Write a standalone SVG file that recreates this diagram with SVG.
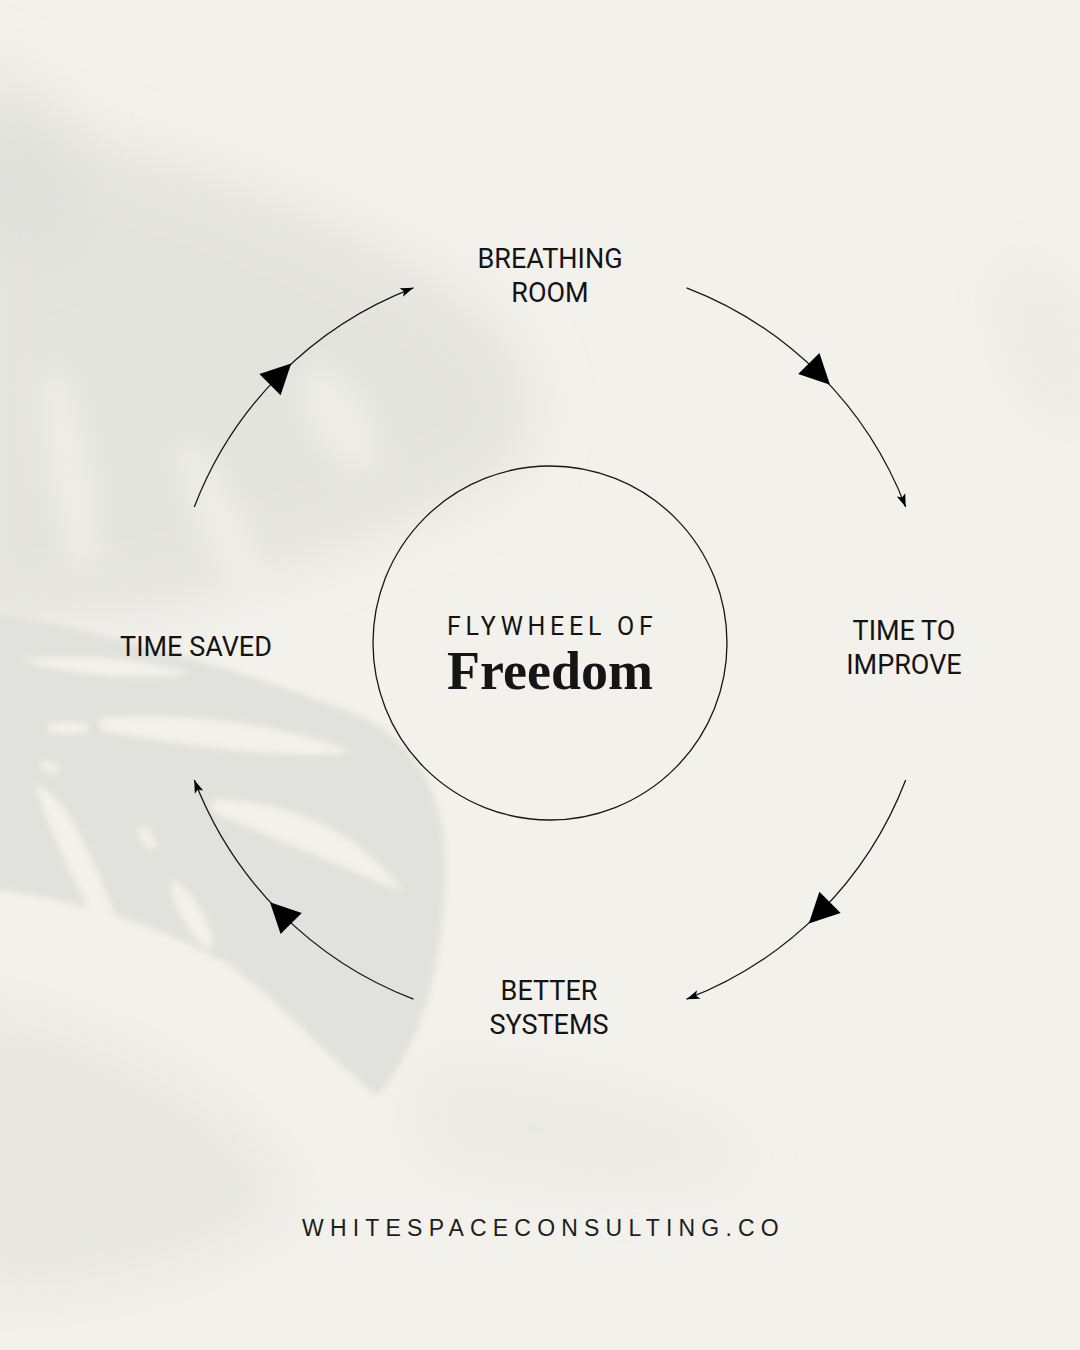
<svg xmlns="http://www.w3.org/2000/svg" width="1080" height="1350" viewBox="0 0 1080 1350">
<style>
.lbl{font-family:Roboto,"Liberation Sans",sans-serif;font-size:27px;fill:#141414;text-anchor:middle}
.arc{fill:none;stroke:#161616;stroke-width:1.3}
.sh{fill:#dcdcd8}
.lt{fill:#f2f1ec}
</style>
<defs>
<filter id="bL" x="-50%" y="-50%" width="200%" height="200%"><feGaussianBlur stdDeviation="30"/></filter>
<filter id="bM" x="-50%" y="-50%" width="200%" height="200%"><feGaussianBlur stdDeviation="14"/></filter>
<filter id="bS" x="-20%" y="-20%" width="140%" height="140%"><feGaussianBlur stdDeviation="3"/></filter>
<marker id="big" markerUnits="userSpaceOnUse" markerWidth="34" markerHeight="34" viewBox="-16 -17 34 34" refX="0" refY="0" orient="auto">
<path d="M-15,-15 L15,0 L-15,15 Z" fill="#000"/>
</marker>
<marker id="tip" markerUnits="userSpaceOnUse" markerWidth="14" markerHeight="10" viewBox="0 -5 14 10" refX="13" refY="0" orient="auto">
<path d="M0,-4.5 L13,0 L0,4.5 L3,0 Z" fill="#000"/>
</marker>
</defs>
<g id="background">
<rect width="1080" height="1350" fill="#f2f1ec"/>
<path class="sh" opacity="0.6" filter="url(#bL)" d="M-40,120 C120,130 300,200 440,280 C540,340 560,430 500,480 C400,530 280,570 160,610 L-40,630 Z"/>
<path class="sh" opacity="0.55" filter="url(#bL)" d="M-40,60 C40,70 90,120 80,220 C60,260 0,260 -40,250 Z"/>
<ellipse class="lt" opacity="0.7" filter="url(#bM)" cx="70" cy="470" rx="22" ry="110" transform="rotate(-10 70 470)"/>
<ellipse class="lt" opacity="0.7" filter="url(#bM)" cx="220" cy="520" rx="22" ry="90" transform="rotate(-25 220 520)"/>
<ellipse class="lt" opacity="0.7" filter="url(#bM)" cx="340" cy="420" rx="30" ry="60" transform="rotate(-30 340 420)"/>
<path class="sh" opacity="0.45" filter="url(#bL)" d="M1000,260 C1060,270 1100,330 1090,420 C1050,430 1010,380 1000,260 Z"/>
<path class="sh" opacity="0.45" filter="url(#bL)" d="M-40,1000 C100,1020 250,1100 300,1200 C250,1260 100,1300 -40,1300 Z"/>
<path class="sh" opacity="0.35" filter="url(#bL)" d="M420,1060 C560,1080 700,1100 760,1160 C700,1200 560,1190 420,1160 Z"/>
<g filter="url(#bS)">
<path d="M-10,612 C120,635 250,672 360,716 C420,745 448,800 445,880 C442,960 425,1040 378,1095 C340,1070 290,1010 230,965 C160,925 80,900 -10,888 Z" fill="#e1e1dd"/>
<path class="lt" d="M22,660 C80,652 150,660 190,674 C140,680 70,676 22,660 Z"/>
<path class="lt" d="M100,718 C180,712 280,722 352,752 C300,760 190,748 100,730 Z"/>
<ellipse class="lt" cx="68" cy="728" rx="22" ry="6"/>
<ellipse class="lt" cx="50" cy="767" rx="10" ry="5" transform="rotate(25 50 767)"/>
<path class="lt" d="M212,800 C280,798 360,830 403,892 C350,870 280,840 212,812 Z"/>
<path class="lt" d="M35,785 C60,790 90,840 133,965 C100,940 60,860 35,785 Z"/>
<ellipse class="lt" cx="192" cy="915" rx="10" ry="38" transform="rotate(-30 192 915)"/>
<ellipse class="lt" cx="147" cy="838" rx="6" ry="13" transform="rotate(-30 147 838)"/>
</g>
</g>
<g id="connectors">
<path class="arc" marker-mid="url(#big)" marker-end="url(#tip)" d="M194.31,506.96 A381,381 0 0 1 280.59,374.09 A381,381 0 0 1 413.46,287.81"/>
<path class="arc" marker-mid="url(#big)" marker-end="url(#tip)" d="M686.54,287.81 A381,381 0 0 1 819.41,374.09 A381,381 0 0 1 905.69,506.96"/>
<path class="arc" marker-mid="url(#big)" marker-end="url(#tip)" d="M905.69,780.04 A381,381 0 0 1 819.41,912.91 A381,381 0 0 1 686.54,999.19"/>
<path class="arc" marker-mid="url(#big)" marker-end="url(#tip)" d="M413.46,999.19 A381,381 0 0 1 280.59,912.91 A381,381 0 0 1 194.31,780.04"/>
</g>
<g id="center">
<circle cx="550" cy="643" r="177" fill="none" stroke="#161616" stroke-width="1.3"/>
<text x="447" y="635" font-family="Roboto,'Liberation Sans',sans-serif" font-size="25" letter-spacing="4.7" fill="#141414">FLYWHEEL OF</text>
<text x="550" y="689" font-family="'Liberation Serif',serif" font-weight="bold" font-size="54" text-anchor="middle" fill="#151515">Freedom</text>
</g>
<g id="breathing-room">
<text class="lbl" x="550" y="268">BREATHING</text>
<text class="lbl" x="550" y="302">ROOM</text>
</g>
<g id="time-to-improve">
<text class="lbl" x="904" y="640">TIME TO</text>
<text class="lbl" x="904" y="674">IMPROVE</text>
</g>
<g id="better-systems">
<text class="lbl" x="549" y="1000">BETTER</text>
<text class="lbl" x="549" y="1034">SYSTEMS</text>
</g>
<g id="time-saved">
<text class="lbl" x="196" y="656">TIME SAVED</text>
</g>
<g id="footer">
<text x="302" y="1236" font-family="'Liberation Sans',sans-serif" font-size="23" letter-spacing="6.2" fill="#1e1e1e">WHITESPACECONSULTING.CO</text>
</g>
</svg>
